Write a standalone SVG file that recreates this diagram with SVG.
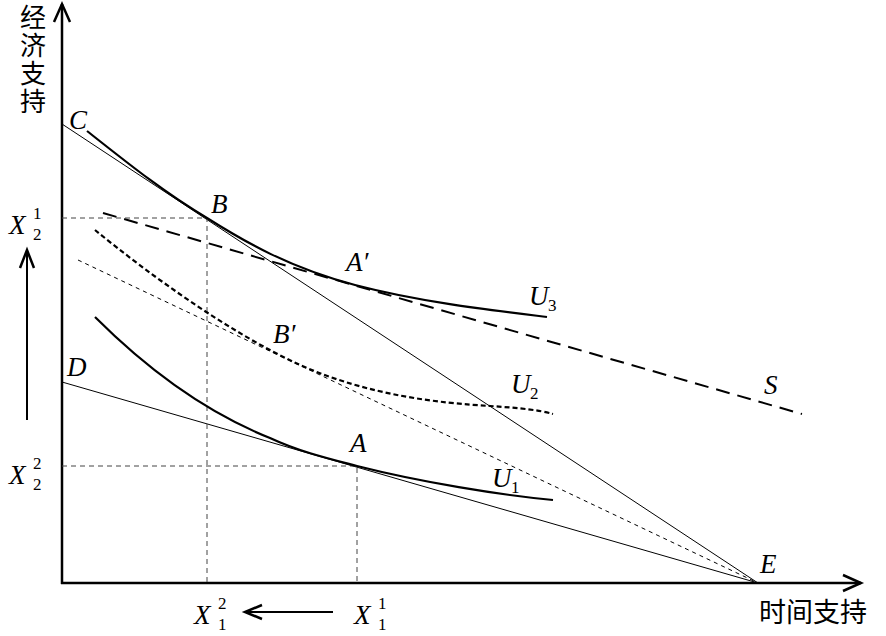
<svg xmlns="http://www.w3.org/2000/svg" width="886" height="636" viewBox="0 0 886 636">
<style>
.lbl{font-family:"Liberation Serif","Times New Roman",serif;font-style:italic;font-size:27px;fill:#000}
.idx{font-family:"Liberation Serif","Times New Roman",serif;font-size:17px;fill:#000}
.cjk{font-family:"Noto Sans CJK SC","Noto Sans CJK JP",sans-serif;font-size:27px;fill:#000}
.axis{stroke:#000;stroke-width:2.5;fill:none}
.thin{stroke:#000;stroke-width:1;fill:none}
.guide{stroke:#444;stroke-width:1;stroke-dasharray:5 4;fill:none}
.curve{stroke:#000;stroke-width:2.2;fill:none}
</style>
<rect width="886" height="636" fill="#fff"/>
<g id="axes">
<line class="axis" x1="62" y1="4" x2="62" y2="584"/>
<line class="axis" x1="61" y1="583" x2="861" y2="583"/>
<polyline class="axis" points="54,22 62,4 70,22"/>
<polyline class="axis" points="843,575 861,583 843,591"/>
<text class="cjk" x="33" y="4" writing-mode="vertical-rl" style="letter-spacing:2px;font-size:26px">经济支持</text>
<text class="cjk" x="759" y="622">时间支持</text>
</g>
<g id="connectors">
<line class="thin" x1="62" y1="124" x2="758" y2="583"/>
<line class="thin" x1="62" y1="382" x2="758" y2="583"/>
<line class="thin" stroke-dasharray="4 4" x1="78" y1="260" x2="758" y2="583"/>
<line stroke="#000" stroke-width="2" stroke-dasharray="14 8" x1="103" y1="213" x2="802" y2="414"/>
<polyline class="guide" points="62,218 207,218 207,583"/>
<polyline class="guide" points="62,466 357,466 357,583"/>
<line stroke="#000" stroke-width="2" x1="27" y1="420" x2="27" y2="252"/>
<polyline stroke="#000" stroke-width="2.5" fill="none" points="20,268 27,250 34,268"/>
<line stroke="#000" stroke-width="2" x1="333" y1="612" x2="246" y2="612"/>
<polyline stroke="#000" stroke-width="2.5" fill="none" points="262,605 245,612 262,619"/>
</g>
<g id="U3">
<path class="curve" d="M87,131 C130,165 165,193 207,218 C245,242 290,268 355,285 C420,302 490,310 547,317"/>
<text class="lbl" x="529" y="305">U</text><text class="idx" x="548" y="311">3</text>
</g>
<g id="U2">
<path class="curve" stroke-dasharray="5 3" d="M95,230 C150,275 230,333 300,365 C370,396 440,403 490,406 C520,408 540,410 553,414"/>
<text class="lbl" x="511" y="393">U</text><text class="idx" x="530" y="399">2</text>
</g>
<g id="U1">
<path class="curve" d="M95,317 C140,362 200,410 270,438 C300,452 330,459 357,466 C420,482 500,495 553,500"/>
<text class="lbl" x="492" y="487">U</text><text class="idx" x="511" y="493">1</text>
</g>
<g id="S"><text class="lbl" x="764" y="394">S</text></g>
<g id="C"><text class="lbl" x="69" y="129">C</text></g>
<g id="D"><text class="lbl" x="67" y="376">D</text></g>
<g id="B"><text class="lbl" x="211" y="213">B</text></g>
<g id="Aprime"><text class="lbl" x="346" y="271">A′</text></g>
<g id="Bprime"><text class="lbl" x="273" y="343">B′</text></g>
<g id="A"><text class="lbl" x="350" y="452">A</text></g>
<g id="E"><text class="lbl" x="760" y="573">E</text></g>
<g id="X21"><text class="lbl" x="9" y="234">X</text><text class="idx" x="33" y="219">1</text><text class="idx" x="33" y="240">2</text></g>
<g id="X22"><text class="lbl" x="9" y="484">X</text><text class="idx" x="33" y="469">2</text><text class="idx" x="33" y="490">2</text></g>
<g id="X12"><text class="lbl" x="194" y="624">X</text><text class="idx" x="218" y="609">2</text><text class="idx" x="218" y="630">1</text></g>
<g id="X11"><text class="lbl" x="354" y="624">X</text><text class="idx" x="378" y="609">1</text><text class="idx" x="378" y="630">1</text></g>
</svg>
